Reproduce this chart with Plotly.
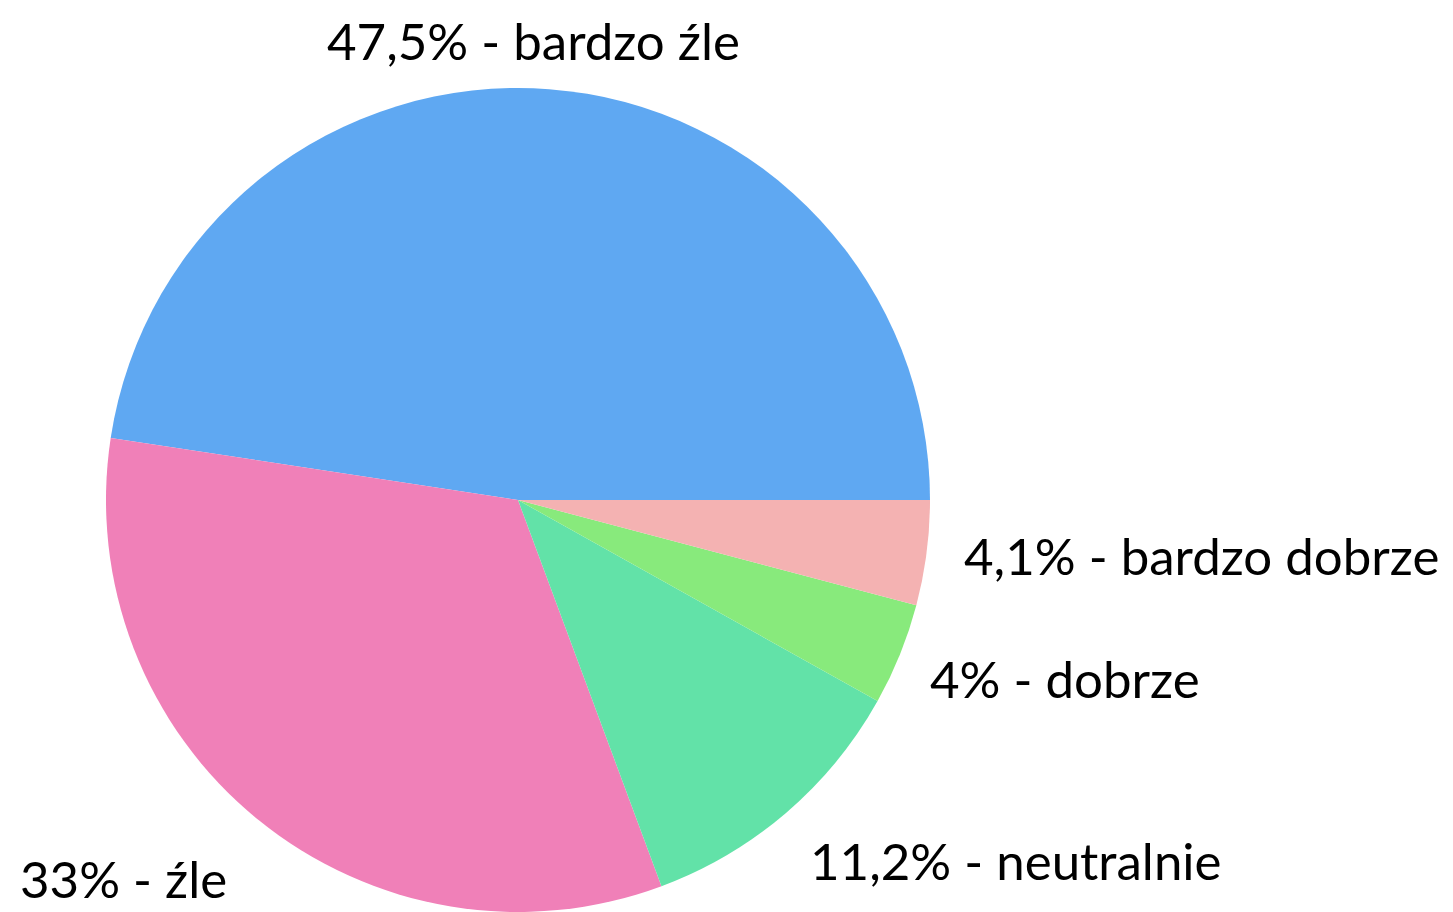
import plotly.graph_objects as go

labels = ["bardzo źle", "źle", "neutralnie", "dobrze", "bardzo dobrze"]
values = [47.5, 33, 11.2, 4, 4.1]
value_text = ["47,5%", "33%", "11,2%", "4%", "4,1%"]
colors = ["#5fa8f2", "#f080b8", "#62e2a8", "#88ea7c", "#f4b2b2"]

W, H = 1453, 912
# label anchor positions in pixels (left x, center y)
label_pos = [(325, 40), (18, 878), (808, 860), (928, 678), (962, 555)]

# first slice spans counterclockwise from 3 o'clock
first_deg = 360 * values[0] / sum(values)

fig = go.Figure(go.Pie(
    labels=labels,
    values=values,
    marker=dict(colors=colors, line=dict(width=0)),
    sort=False,
    direction="counterclockwise",
    rotation=90 - first_deg,
    textinfo="none",
    hoverinfo="label+percent",
    domain=dict(x=[(518 - 412) / W, (518 + 412) / W], y=[0, 824 / H]),
    showlegend=False,
))

for lab, vt, (px, py) in zip(labels, value_text, label_pos):
    fig.add_annotation(
        x=px / W, y=1 - py / H, xref="paper", yref="paper",
        xanchor="left", yanchor="middle",
        text=f"{vt} - {lab}", showarrow=False,
        font=dict(family="Lato", size=51, color="#000000"),
    )

fig.update_layout(
    width=W, height=H,
    margin=dict(l=0, r=0, t=0, b=0),
    paper_bgcolor="white", plot_bgcolor="white",
)
fig.write_html("out.html")
